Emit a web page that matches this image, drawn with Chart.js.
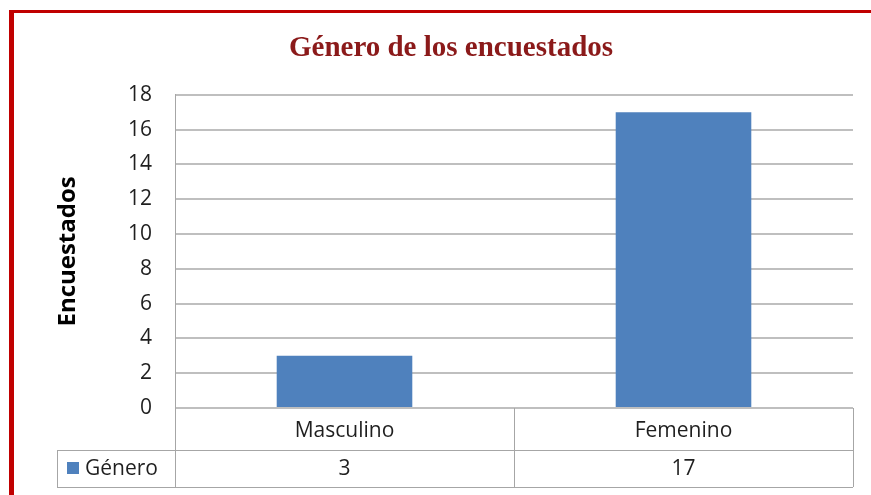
<!DOCTYPE html>
<html lang="es">
<head>
  <meta charset="UTF-8">
  <title>Género de los encuestados</title>
  <script src="https://cdn.jsdelivr.net/npm/chart.js"></script>
  <style>
    html, body { margin: 0; padding: 0; background: #fff; }
    .wrap { position: relative; width: 871px; height: 495px; overflow: hidden; }
    canvas { position: absolute; left: 0; top: 0; }
    .marco { position: absolute; left: 9px; top: 10px; width: 900px; height: 520px;
             border-top: 3px solid #C00000; border-left: 5px solid #C00000; pointer-events: none; }
  </style>
</head>
<body>
  <div class="wrap">
    <canvas id="grafico" width="871" height="495"></canvas>
    <div class="marco"></div>
  </div>

  <script>
    const categorias = ['Masculino', 'Femenino'];
    const serieNombre = 'Género';
    const valores = [3, 17];
    const ticksY = [0, 2, 4, 6, 8, 10, 12, 14, 16, 18];

    const azul = '#4F81BD';
    const gris = '#A6A6A6';
    const fuente = "'Open Sans', 'DejaVu Sans', sans-serif";

    // tabla de datos bajo el eje X
    const tablaDatos = {
      id: 'tablaDatos',
      afterDraw(chart) {
        const c = chart.ctx;
        const area = chart.chartArea;
        const x = chart.scales.x;
        const filaMedio = 450, filaFin = 487, izqLeyenda = 57;
        const medio = (x.getPixelForValue(0) + x.getPixelForValue(1)) / 2;

        c.save();
        c.strokeStyle = gris;
        c.lineWidth = 1;
        c.beginPath();
        [area.left, medio, area.right].forEach(px => {
          const p = Math.round(px) + 0.5;
          c.moveTo(p, area.bottom); c.lineTo(p, filaFin);
        });
        c.moveTo(izqLeyenda + 0.5, filaMedio); c.lineTo(izqLeyenda + 0.5, filaFin);
        c.moveTo(izqLeyenda, filaMedio + 0.5); c.lineTo(area.right, filaMedio + 0.5);
        c.moveTo(izqLeyenda, filaFin + 0.5); c.lineTo(area.right, filaFin + 0.5);
        c.stroke();

        const yTexto = (filaMedio + filaFin) / 2 + 1;
        c.fillStyle = azul;
        c.fillRect(67, 462, 12, 12);
        c.fillStyle = '#1F1F1F';
        c.font = '21px ' + fuente;
        c.textBaseline = 'middle';
        c.textAlign = 'left';
        c.fillText(serieNombre, 85, yTexto);
        c.textAlign = 'center';
        valores.forEach((v, i) => c.fillText(String(v), x.getPixelForValue(i), yTexto));
        c.restore();
      }
    };

    const ctx = document.getElementById('grafico').getContext('2d');
    new Chart(ctx, {
      type: 'bar',
      data: {
        labels: categorias,
        datasets: [{
          label: serieNombre,
          data: valores,
          backgroundColor: azul,
          borderWidth: 0,
          categoryPercentage: 1,
          barPercentage: 0.4
        }]
      },
      options: {
        responsive: false,
        animation: false,
        layout: { padding: { left: 49, right: 18, top: 0, bottom: 0 } },
        plugins: {
          legend: { display: false },
          tooltip: { enabled: false },
          title: {
            display: true,
            text: 'Género de los encuestados',
            color: '#8B1A1A',
            font: { family: "'Liberation Serif', 'DejaVu Serif', serif", size: 29, weight: 'bold' },
            padding: { top: 31, bottom: 29 }
          }
        },
        scales: {
          x: {
            grid: { display: false, drawTicks: false },
            border: { display: false },
            ticks: { color: '#1F1F1F', font: { family: fuente, size: 21 }, padding: 10 },
            afterFit(s) { s.height = 87; }
          },
          y: {
            min: 0,
            max: 18,
            afterBuildTicks(s) { s.ticks = ticksY.map(v => ({ value: v })); },
            grid: { color: '#BFBFBF', lineWidth: 2, drawTicks: false },
            border: { display: true, color: '#A6A6A6', width: 1 },
            ticks: { color: '#1F1F1F', font: { family: fuente, size: 21 }, padding: 23 },
            title: {
              display: true,
              text: 'Encuestados',
              color: '#000',
              font: { family: fuente, size: 24, weight: 'bold' },
              padding: { top: 5, bottom: 4 }
            },
            afterFit(s) { s.width = 126; }
          }
        }
      },
      plugins: [tablaDatos]
    });
  </script>
</body>
</html>
